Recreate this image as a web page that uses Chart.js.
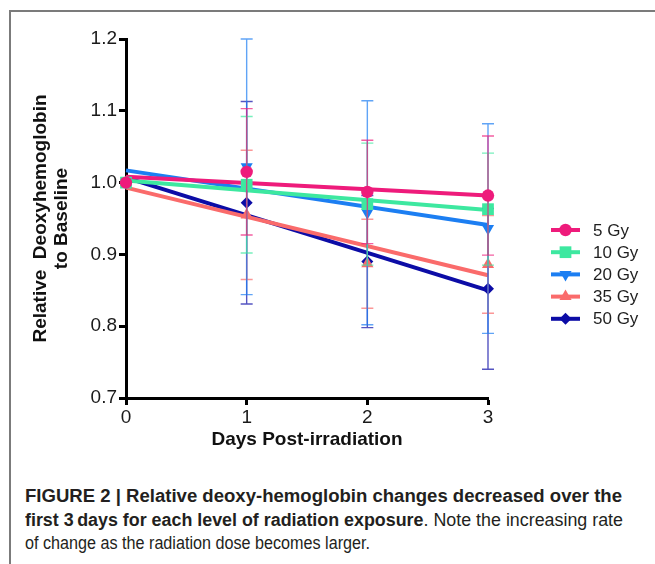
<!DOCTYPE html>
<html>
<head>
<meta charset="utf-8">
<script src="https://cdn.jsdelivr.net/npm/chart.js@4.4.1/dist/chart.umd.min.js"></script>
<style>
  html, body { margin: 0; padding: 0; background: #fff; }
  #wrap { position: relative; width: 655px; height: 564px; overflow: hidden; }
  #frame { position: absolute; left: 9px; top: 10px; width: 660px; height: 600px;
           border-top: 2px solid #7b7b7b; border-left: 2px solid #7b7b7b; }
  #chartBox { position: absolute; left: 0; top: 0; width: 655px; height: 460px; }
  #caption { position: absolute; left: 25px; top: 485px;
             font-family: "Liberation Sans", Arial, sans-serif; font-size: 17.5px;
             line-height: 23.5px; color: #231f20; }
  #caption div { white-space: nowrap; transform-origin: 0 50%; width: max-content; }
  #caption b { font-weight: bold; }
</style>
</head>
<body>
<div id="wrap">
  <div id="frame"></div>
  <div id="chartBox"><canvas id="deoxyChart" width="655" height="460"></canvas></div>
  <div id="caption">
    <div data-w="597"><b>FIGURE 2 | Relative deoxy-hemoglobin changes decreased over the</b></div>
    <div data-w="598"><b>first 3&#8201;days for each level of radiation exposure</b>. Note the increasing rate</div>
    <div data-w="345">of change as the radiation dose becomes larger.</div>
  </div>
</div>
<script>
// data
const days = [0, 1, 2, 3];
const doses = ['5 Gy', '10 Gy', '20 Gy', '35 Gy', '50 Gy'];
const yTicks = [0.7, 0.8, 0.9, 1.0, 1.1, 1.2];

const mean5  = [1.000, 1.015, 0.987, 0.982];
const mean10 = [1.000, 0.997, 0.970, 0.963];
const mean20 = [1.000, 1.022, 0.958, 0.936];
const mean35 = [1.000, 0.955, 0.887, 0.886];
const mean50 = [1.000, 0.972, 0.890, 0.852];

const err5  = [0, 0.088, 0.072, 0.083];
const err10 = [0, 0.095, 0.085, 0.078];
const err20 = [0, 0.178, 0.156, 0.146];
const err35 = [0, 0.090, 0.062, 0.068];
const err50 = [0, 0.141, 0.092, 0.112];

// fitted line ends at day 0 and day 3
const fitStart = [1.008, 1.003, 1.017, 0.993, 1.007];
const fitEnd   = [0.982, 0.962, 0.941, 0.871, 0.850];

const means = [mean5, mean10, mean20, mean35, mean50];
const errs = [err5, err10, err20, err35, err50];
const colors = ['#ee1b7b', '#3de8a0', '#1c7ef2', '#fa6b6b', '#0c0ca6'];
const shapes = ['circle', 'rect', 'triangle', 'triangle', 'rectRot'];
const rots = [0, 0, 180, 0, 0];
const radii = [6.2, 8.3, 7, 7, 6];

const FONT = "'Liberation Sans', Arial, sans-serif";

// squeeze caption lines to the widths of the printed (condensed) caption
document.querySelectorAll('#caption div').forEach(el => {
    const k = parseFloat(el.dataset.w) / el.getBoundingClientRect().width;
    el.style.transform = 'scaleX(' + k + ')';
});

let datasets = [];
doses.forEach((d, i) => {
    datasets.push({
        label: d, kind: 'mean', series: i, order: i,
        data: days.map((x, k) => ({ x: x, y: means[i][k] })),
        showLine: false, clip: false,
        pointStyle: shapes[i], pointRotation: rots[i], pointRadius: radii[i],
        backgroundColor: colors[i], borderColor: colors[i], borderWidth: 0
    });
    datasets.push({
        label: d + ' fit', kind: 'fit', series: i, order: 10 + i,
        data: [{ x: days[0], y: fitStart[i] }, { x: days[days.length - 1], y: fitEnd[i] }],
        showLine: true, pointRadius: 0, borderColor: colors[i], borderWidth: 4, clip: false
    });
});

// error bars, drawn just before each series' markers
const errorBars = {
    id: 'errorBars',
    beforeDatasetDraw(chart, args) {
        const ds = chart.data.datasets[args.index];
        if (ds.kind !== 'mean') return;
        const i = ds.series, xs = chart.scales.x, ys = chart.scales.y, ctx = chart.ctx;
        ctx.save();
        ctx.strokeStyle = colors[i]; ctx.globalAlpha = 0.7; ctx.lineWidth = 1.4;
        days.forEach((d, k) => {
            if (!errs[i][k]) return;
            const px = xs.getPixelForValue(d);
            const top = ys.getPixelForValue(means[i][k] + errs[i][k]);
            const bot = ys.getPixelForValue(means[i][k] - errs[i][k]);
            ctx.beginPath();
            ctx.moveTo(px, top); ctx.lineTo(px, bot);
            ctx.moveTo(px - 6, top); ctx.lineTo(px + 6, top);
            ctx.moveTo(px - 6, bot); ctx.lineTo(px + 6, bot);
            ctx.stroke();
        });
        ctx.restore();
    }
};

// legend: line with marker, then label
const sideLegend = {
    id: 'sideLegend',
    afterDraw(chart) {
        const ctx = chart.ctx;
        ctx.save();
        doses.forEach((d, i) => {
            const y = 230 + i * 22.2;
            ctx.strokeStyle = colors[i]; ctx.lineWidth = 4;
            ctx.beginPath(); ctx.moveTo(551, y); ctx.lineTo(580, y); ctx.stroke();
            ctx.fillStyle = colors[i];
            Chart.helpers.drawPoint(ctx, { pointStyle: shapes[i], rotation: rots[i], radius: radii[i], borderWidth: 0 }, 565.5, y);
            ctx.fillStyle = '#1e1e1e';
            ctx.font = '17px ' + FONT;
            ctx.textBaseline = 'middle';
            ctx.fillText(d, 593, y + 1);
        });
        ctx.restore();
    }
};

new Chart(document.getElementById('deoxyChart'), {
    type: 'scatter',
    data: { datasets: datasets },
    plugins: [errorBars, sideLegend],
    options: {
        responsive: false, animation: false,
        layout: { padding: { left: 0, top: 39, right: 167, bottom: 0 } },
        plugins: { legend: { display: false }, tooltip: { enabled: false } },
        scales: {
            x: {
                type: 'linear', min: 0, max: 3,
                afterFit: s => { s.height = 62; },
                afterBuildTicks: s => { s.ticks = days.map(v => ({ value: v })); },
                grid: { display: true, drawOnChartArea: false, drawTicks: true, tickLength: 7, tickWidth: 3, tickColor: '#000' },
                border: { display: true, color: '#000', width: 3 },
                ticks: { color: '#1a1a1a', font: { family: FONT, size: 19 }, padding: 1, callback: v => v },
                title: { display: true, text: 'Days Post-irradiation', color: '#111',
                         font: { family: FONT, size: 19, weight: 'bold', lineHeight: 1.2 }, padding: { top: 0, bottom: 9 } }
            },
            y: {
                type: 'linear', min: 0.7, max: 1.2,
                afterFit: s => { s.width = 126; },
                afterBuildTicks: s => { s.ticks = yTicks.map(v => ({ value: v })); },
                grid: { display: true, drawOnChartArea: false, drawTicks: true, tickLength: 7, tickWidth: 3, tickColor: '#000' },
                border: { display: true, color: '#000', width: 3 },
                ticks: { color: '#1a1a1a', font: { family: FONT, size: 19 }, padding: 2, callback: v => v.toFixed(1) },
                title: { display: true, text: ['Relative  Deoxyhemoglobin', 'to Baseline'], color: '#111',
                         font: { family: FONT, size: 19, weight: 'bold', lineHeight: 1.12 }, padding: { top: 30, bottom: 0 } }
            }
        }
    }
});
</script>
</body>
</html>
